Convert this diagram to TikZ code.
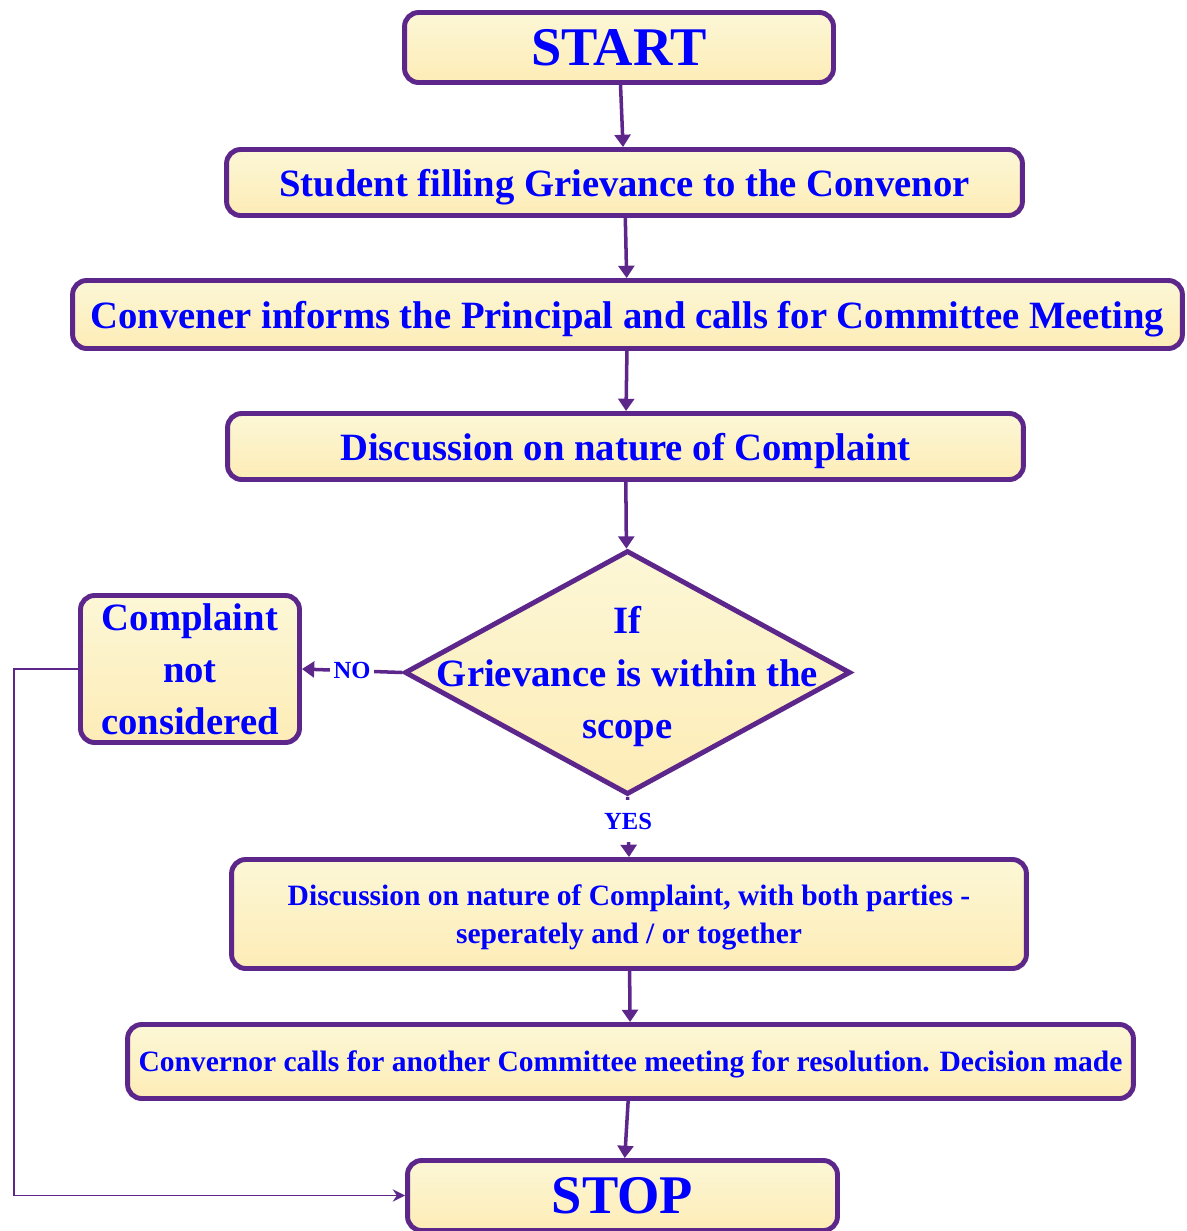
\documentclass[tikz,border=0pt]{standalone}
\usepackage{fontspec}
\setmainfont{Liberation Serif}
\usetikzlibrary{shapes.geometric,arrows.meta}
\definecolor{flowpurple}{RGB}{92,38,138}
\definecolor{boxtop}{RGB}{252,247,214}
\definecolor{boxbottom}{RGB}{253,236,182}

\begin{document}
\begin{tikzpicture}[x=0.02cm, y=-0.02cm, font=\bfseries,
  box/.style={draw=flowpurple, line width=2.8pt, rounded corners=8pt, top color=boxtop, bottom color=boxbottom, text=blue, align=center, inner sep=0pt, text depth=0pt},
  big/.style={box, font=\fontsize{31}{36}\selectfont\bfseries},
  mid/.style={box, font=\fontsize{22}{29.5}\selectfont\bfseries},
  small/.style={box, font=\fontsize{16.8}{22}\selectfont\bfseries},
  flow/.style={draw=flowpurple, line width=2pt, -{Triangle[width=9pt,length=7pt]}},
  back/.style={draw=flowpurple, line width=1.1pt, -{Stealth[width=7pt,length=7pt]}},
  answer/.style={fill=white, text=blue, font=\fontsize{14}{16}\selectfont\bfseries, inner xsep=2pt, inner ysep=7pt},
]
\useasboundingbox (0,0) rectangle (1187,1231);

\node[big, minimum width=8.58cm, minimum height=1.4cm] (start) at (619,47.5) {START};
\node[mid, minimum width=15.92cm, minimum height=1.32cm] (fill) at (624.5,182.5) {Student filling Grievance to the Convenor};
\node[mid, minimum width=22.2cm, minimum height=1.36cm] (inform) at (627.5,314.5) {Convener informs the Principal and calls for Committee Meeting};
\node[mid, minimum width=15.92cm, minimum height=1.32cm] (nature) at (625.5,446.5) {Discussion on nature of Complaint};
\node[diamond, draw=flowpurple, line width=2.8pt, top color=boxtop, bottom color=boxbottom, inner sep=0pt,
  minimum width=8.92cm, minimum height=4.88cm,
  label={[text=blue, align=center, text depth=0pt, font=\fontsize{22}{29.8}\selectfont\bfseries]center:If\\Grievance is within the\\scope}] (scope) at (627.5,672.5) {};
\node[mid, minimum width=4.38cm, minimum height=2.94cm] (notcons) at (190,669) {Complaint\\not\\considered};
\node[small, minimum width=15.9cm, minimum height=2.18cm] (parties) at (629,914) {Discussion on nature of Complaint, with both parties -\\seperately and / or together};
\node[small, minimum width=20.12cm, minimum height=1.48cm] (meeting) at (630.5,1061.5) {Convernor calls for another Committee meeting for resolution. Decision made};
\node[big, minimum width=8.6cm, minimum height=1.4cm] (stop) at (622.5,1195.5) {STOP};

\draw[flow] (start) -- (fill);
\draw[flow] (fill) -- (inform);
\draw[flow] (inform) -- (nature);
\draw[flow] (nature) -- (scope);
\draw[flow] (scope.west) -- node[answer] {NO} (notcons.east);
\draw[flow] (scope.south) -- node[answer, pos=0.4] {YES} (parties.north);
\draw[flow] (parties) -- (meeting);
\draw[flow] (meeting) -- (stop);
\draw[back] (notcons.west) -- ++(-64,0) |- (stop.west);

\end{tikzpicture}
\end{document}
